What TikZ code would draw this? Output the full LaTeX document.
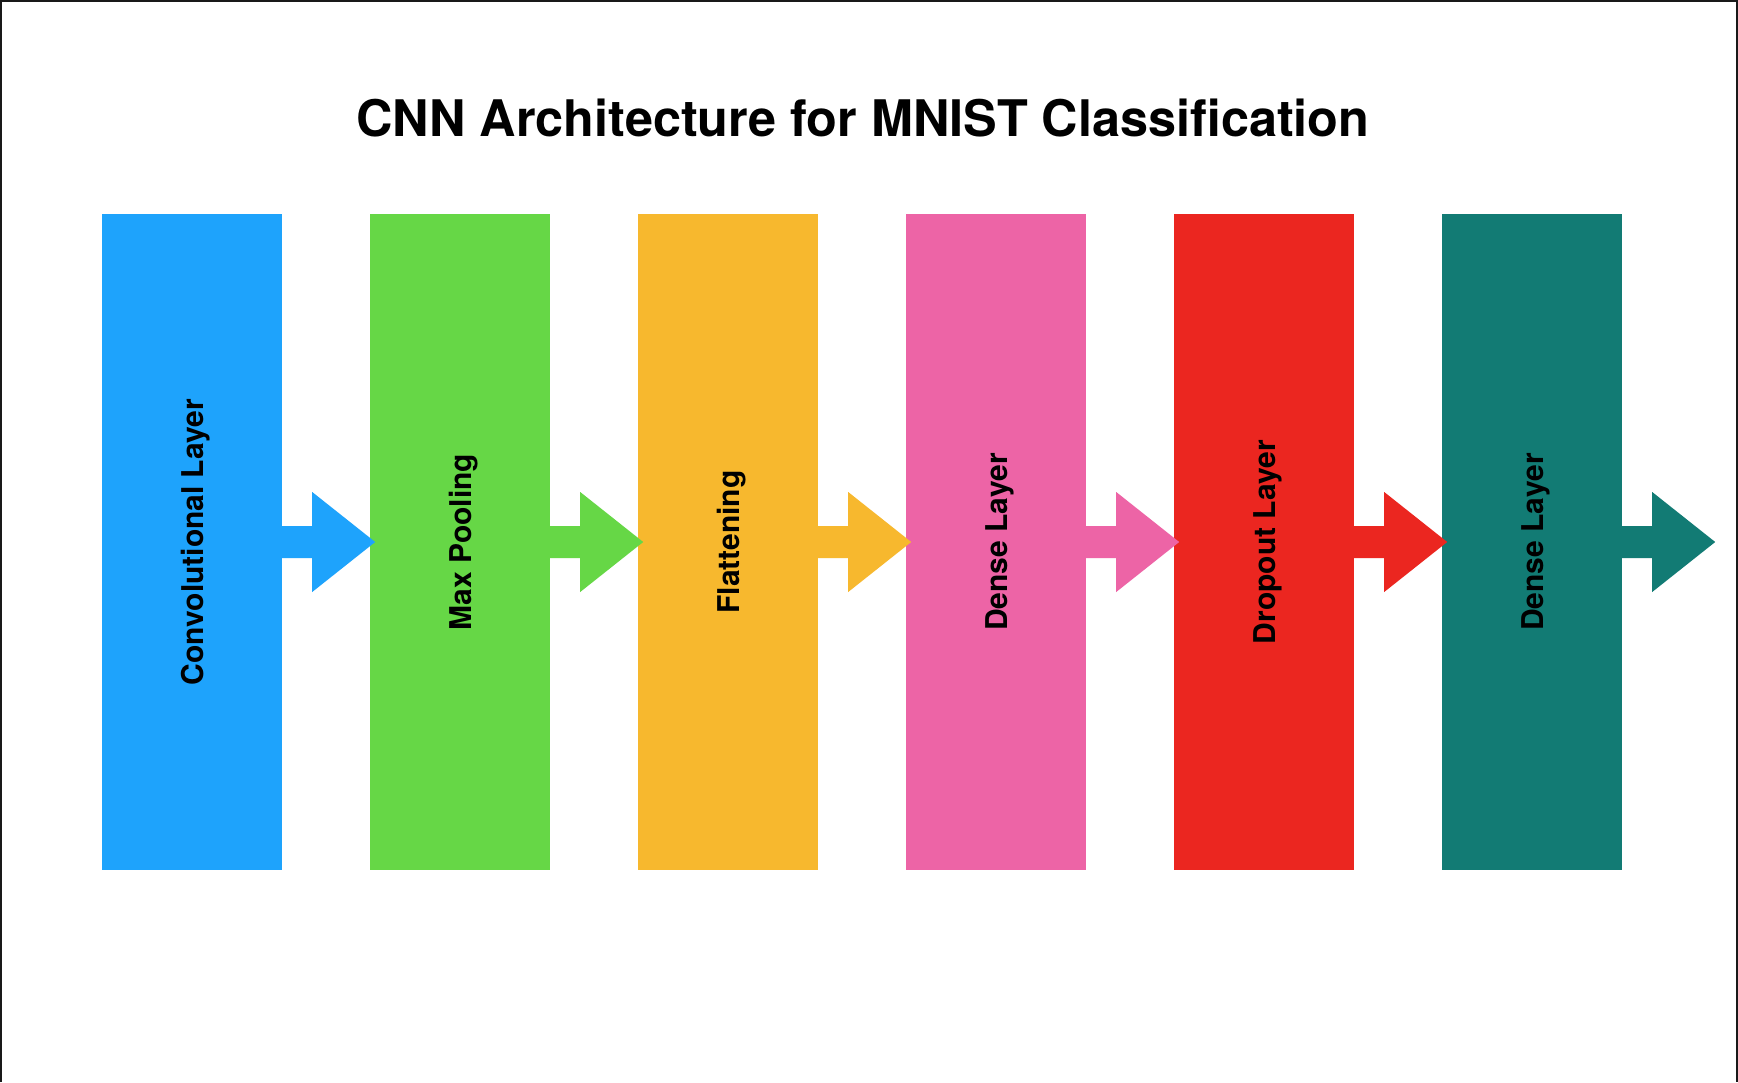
\documentclass[tikz,border=0pt]{standalone}
\usepackage{fontspec}
\setmainfont{TeX Gyre Heros}
\definecolor{cblue}{HTML}{1EA3FC}
\definecolor{cgreen}{HTML}{66D746}
\definecolor{cyellow}{HTML}{F7B82E}
\definecolor{cpink}{HTML}{ED64A6}
\definecolor{cred}{HTML}{EB2620}
\definecolor{cteal}{HTML}{127B74}
\begin{document}
\begin{tikzpicture}[x=1pt,y=-1pt,
  layerbox/.style={rectangle,inner sep=0pt,minimum width=180pt,minimum height=656pt,draw=none},
  layerlabel/.style={rotate=90,font=\fontsize{30}{36}\selectfont\bfseries,text=black},
  titletext/.style={font=\fontsize{50.4}{60}\selectfont\bfseries,text=black,anchor=base}]
\useasboundingbox (0,0) rectangle (1738,1082);
\fill[white] (0,0) rectangle (1738,1082);
\draw[line width=2pt,black!90] (1,1082) -- (1,1) -- (1737,1) -- (1737,1082);
\node[titletext] (title) at (863,136) {CNN Architecture for MNIST Classification};
\node[layerbox,fill=cblue]   (b1) at (192,542) {};
\node[layerbox,fill=cgreen]  (b2) at (460,542) {};
\node[layerbox,fill=cyellow] (b3) at (728,542) {};
\node[layerbox,fill=cpink]   (b4) at (996,542) {};
\node[layerbox,fill=cred]    (b5) at (1264,542) {};
\node[layerbox,fill=cteal]   (b6) at (1532,542) {};
\coordinate (out) at (1715,542);
\foreach \b/\c in {b1/cblue,b2/cgreen,b3/cyellow,b4/cpink,b5/cred,b6/cteal}{
  \fill[\c] (\b.east) ++(0,-16) -- ++(30,0) -- ++(0,-34) -- ++(63,50) -- ++(-63,50) -- ++(0,-34) -- ++(-30,0) -- cycle;
}
\node[layerlabel] (l1) at ([xshift=4pt]b1.center) {Convolutional Layer};
\node[layerlabel] (l2) at ([xshift=4pt]b2.center) {Max Pooling};
\node[layerlabel] (l3) at ([xshift=4pt]b3.center) {Flattening};
\node[layerlabel] (l4) at ([xshift=4pt]b4.center) {Dense Layer};
\node[layerlabel] (l5) at ([xshift=4pt]b5.center) {Dropout Layer};
\node[layerlabel] (l6) at ([xshift=4pt]b6.center) {Dense Layer};
\end{tikzpicture}
\end{document}
